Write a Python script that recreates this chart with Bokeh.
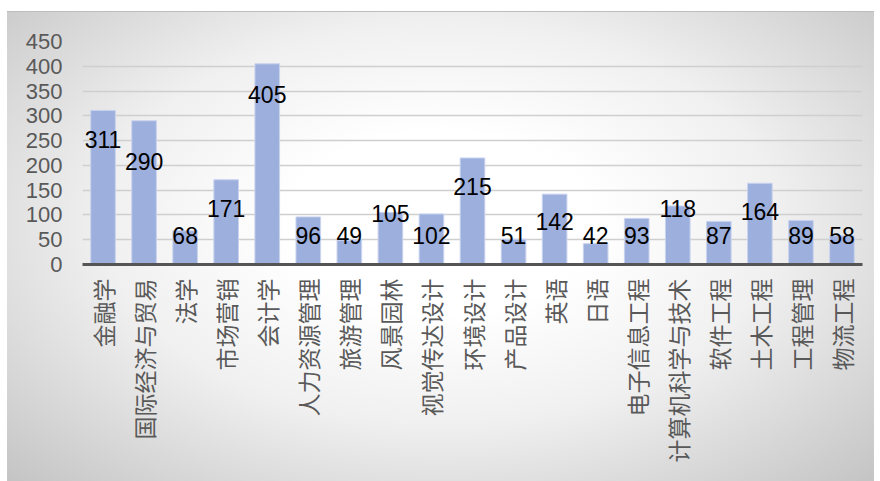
from bokeh.plotting import figure
from bokeh.models import ColumnDataSource, FixedTicker, Range1d
from bokeh.core.properties import value
from bokeh.embed import file_html
from bokeh.resources import INLINE
import math

categories = ["金融学", "国际经济与贸易", "法学", "市场营销", "会计学", "人力资源管理",
              "旅游管理", "风景园林", "视觉传达设计", "环境设计", "产品设计", "英语", "日语",
              "电子信息工程", "计算机科学与技术", "软件工程", "土木工程", "工程管理", "物流工程"]
counts = [311, 290, 68, 171, 405, 96, 49, 105, 102, 215, 51, 142, 42, 93, 118, 87, 164, 89, 58]
label_pos = [252, 207, 58, 112, 344, 58, 58, 102, 58, 157, 58, 86, 58, 58, 114, 58, 106, 58, 58]
y_ticks = [0, 50, 100, 150, 200, 250, 300, 350, 400, 450]

src = ColumnDataSource(dict(cat=categories, count=counts, lab=[str(c) for c in counts], ly=label_pos))

p = figure(x_range=categories, y_range=Range1d(0, 450), width=867, height=470,
           output_backend="svg", toolbar_location=None,
           min_border_left=75, min_border_right=12, min_border_top=29, min_border_bottom=218)
p.background_fill_color = None
p.border_fill_color = None
p.outline_line_color = None
p.styles = {"background": "radial-gradient(ellipse at 50% 45%, #ffffff 25%, #f0f0f0 55%, #c4c4c4 100%)",
            "margin-top": "11px", "margin-left": "7px", "border-top": "1px solid #bdbdbd"}

p.vbar(x="cat", top="count", width=0.6, source=src, fill_color="#9dafdc",
       line_color="#c9d3ef", line_width=1)
p.text(x="cat", y="ly", text="lab", source=src, text_align="center", text_baseline="middle",
       text_font=value("Liberation Sans"), text_font_size="23px", text_color="#000000")

p.xgrid.grid_line_color = None
p.ygrid.grid_line_color = "#cfcfcf"
p.ygrid.grid_line_width = 1.5
p.yaxis.ticker = FixedTicker(ticks=y_ticks)
p.yaxis.axis_line_color = None
p.yaxis.major_tick_line_color = None
p.yaxis.minor_tick_line_color = None
p.yaxis.major_tick_out = 0
p.yaxis.major_tick_in = 0
p.yaxis.major_label_text_font = "Liberation Sans"
p.yaxis.major_label_text_font_size = "22px"
p.yaxis.major_label_text_color = "#595959"
p.yaxis.major_label_standoff = 20

p.xaxis.axis_line_color = "#555555"
p.xaxis.axis_line_width = 3
p.xaxis.major_tick_line_color = None
p.xaxis.minor_tick_line_color = None
p.xaxis.major_tick_out = 0
p.xaxis.major_tick_in = 0
p.xaxis.major_label_orientation = math.pi / 2
p.xaxis.major_label_text_font = "Noto Sans CJK SC"
p.xaxis.major_label_text_font_size = "23px"
p.xaxis.major_label_text_color = "#595959"
p.xaxis.major_label_standoff = 14
p.x_range.range_padding = 0

open("out.html", "w").write(file_html(p, INLINE))
